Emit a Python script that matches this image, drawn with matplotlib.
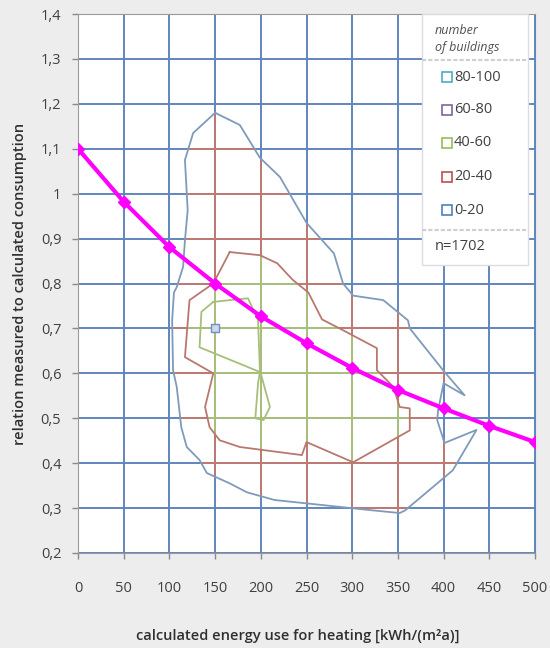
import matplotlib
matplotlib.use("Agg")
import matplotlib.pyplot as plt
from matplotlib.patches import Polygon, Rectangle

plt.rcParams['font.family'] = ['Open Sans', 'DejaVu Sans']

# measured / calculated ratio curve
energy = [0, 50, 100, 150, 200, 250, 300, 350, 400, 450, 500]
ratio = [1.10, 0.982, 0.881, 0.80, 0.727, 0.667, 0.612, 0.563, 0.522, 0.483, 0.447]

# contour outlines (number of buildings)
band_0_20_x = [150, 177, 199, 221, 250, 280, 290, 301, 334, 361, 363, 401, 423, 400, 394,
               393, 401, 436, 410, 358, 352, 322, 215, 185, 166, 141, 133, 119, 113, 108,
               104, 103, 105, 108, 115, 117, 120, 117, 126, 150]
band_0_20_y = [1.18, 1.153, 1.08, 1.037, 0.935, 0.867, 0.80, 0.773, 0.763, 0.718, 0.70, 0.603,
               0.551, 0.578, 0.518, 0.496, 0.445, 0.474, 0.384, 0.295, 0.289, 0.295, 0.318,
               0.335, 0.355, 0.378, 0.407, 0.436, 0.48, 0.57, 0.607, 0.718, 0.78, 0.792,
               0.837, 0.896, 0.963, 1.075, 1.135, 1.18]

band_20_40_x = [166, 199, 218, 235, 252, 267, 289, 327, 327, 345, 352, 363, 363, 301, 250,
                245, 177, 155, 144, 139, 148, 117, 122, 148, 166]
band_20_40_y = [0.87, 0.863, 0.845, 0.808, 0.78, 0.72, 0.697, 0.656, 0.607, 0.57, 0.525, 0.522,
                0.473, 0.402, 0.447, 0.418, 0.436, 0.451, 0.48, 0.525, 0.60, 0.636, 0.763,
                0.80, 0.87]

band_40_60_x = [148, 166, 186, 197, 199, 210, 203, 194, 197, 199, 133, 135, 148]
band_40_60_y = [0.759, 0.763, 0.767, 0.718, 0.607, 0.525, 0.496, 0.50, 0.578, 0.603, 0.658,
                0.737, 0.759]

band_60_80_x = [150]
band_60_80_y = [0.70]

x_ticks = [0, 50, 100, 150, 200, 250, 300, 350, 400, 450, 500]
y_ticks = [0.2, 0.3, 0.4, 0.5, 0.6, 0.7, 0.8, 0.9, 1.0, 1.1, 1.2, 1.3, 1.4]
y_ticklabels = ["0,2", "0,3", "0,4", "0,5", "0,6", "0,7", "0,8", "0,9", "1",
                "1,1", "1,2", "1,3", "1,4"]

legend_labels = ["80-100", "60-80", "40-60", "20-40", "0-20"]
legend_colors = ["#4bacc6", "#8064a2", "#9bbb59", "#c0504d", "#4f81bd"]

grid_blue = "#5f86bd"
grid_red = "#c07a72"
grid_green = "#a9c07c"

fig = plt.figure(figsize=(5.5, 6.48), dpi=100, facecolor="#ededed")
ax = fig.add_axes([78 / 550, 1 - 553 / 648, 457 / 550, 539 / 648])
ax.set_facecolor("white")
ax.set_xlim(0, 500)
ax.set_ylim(0.2, 1.4)


def draw_grid(color, clip=None, z=0.5):
    vl = ax.vlines(x_ticks, 0.2, 1.4, colors=color, linewidth=1.4, zorder=z)
    hl = ax.hlines(y_ticks, 0, 500, colors=color, linewidth=1.4, zorder=z)
    if clip is not None:
        vl.set_clip_path(clip)
        hl.set_clip_path(clip)


outer = Polygon(list(zip(band_0_20_x, band_0_20_y)), closed=True, transform=ax.transData)
inner = Polygon(list(zip(band_20_40_x, band_20_40_y)), closed=True, transform=ax.transData)

draw_grid(grid_blue)
draw_grid(grid_red, outer, 0.6)
draw_grid(grid_green, inner, 0.7)

# contour lines
ax.plot(band_0_20_x, band_0_20_y, color="#7f9abb", linewidth=1.3, zorder=2)
ax.plot(band_20_40_x, band_20_40_y, color="#b9786f", linewidth=1.3, zorder=2)
ax.plot(band_40_60_x, band_40_60_y, color="#a7bf7a", linewidth=1.3, zorder=2)
ax.plot(band_60_80_x, band_60_80_y, marker="s", markersize=6, markerfacecolor="#cfd9ea",
        markeredgecolor="#6f8fc0", linestyle="none", zorder=2)

ax.plot(energy, ratio, color="#ff00ff", linewidth=3, marker="D", markersize=6, zorder=3)

ax.set_xticks(x_ticks)
ax.set_yticks(y_ticks)
ax.set_yticklabels(y_ticklabels)
ax.tick_params(axis="both", colors="#8a8a8a", labelcolor="#404040", labelsize=10.5,
               length=4, width=1)
ax.tick_params(axis="x", pad=16)
ax.tick_params(axis="y", pad=8)
for side in ["left", "bottom", "top"]:
    ax.spines[side].set_color("#9a9a9a")
ax.spines["right"].set_color(grid_blue)

ax.set_xlabel("calculated energy use for heating [kWh/(m²a)]", fontsize=10.5,
              fontweight="semibold", color="#303030", labelpad=24, x=0.481)
ax.set_ylabel("relation measured to calculated consumption", fontsize=10.5,
              fontweight="semibold", color="#303030", labelpad=10)

# legend box
ax.add_patch(Rectangle((0.753, 0.534), 0.232, 0.466, transform=ax.transAxes,
                       facecolor="white", edgecolor="#dcdcdc", linewidth=1, zorder=5))
ax.plot([0.753, 0.985], [0.915, 0.915], transform=ax.transAxes, color="#cfcfcf",
        linewidth=1.5, linestyle=(0, (2, 1)), zorder=6)
ax.plot([0.753, 0.985], [0.599, 0.599], transform=ax.transAxes, color="#cfcfcf",
        linewidth=1.5, linestyle=(0, (2, 1)), zorder=6)
ax.text(0.781, 0.970, "number", transform=ax.transAxes, fontsize=9, style="italic",
        color="#505050", va="center", ha="left", zorder=6)
ax.text(0.781, 0.937, "of buildings", transform=ax.transAxes, fontsize=9, style="italic",
        color="#505050", va="center", ha="left", zorder=6)
entry_y = [0.883, 0.822, 0.761, 0.698, 0.636]
for lab, col, ey in zip(legend_labels, legend_colors, entry_y):
    ax.plot([0.807], [ey], transform=ax.transAxes, marker="s", markersize=7,
            markerfacecolor="white", markeredgecolor=col, markeredgewidth=1.2,
            linestyle="none", zorder=6)
    ax.text(0.823, ey, lab, transform=ax.transAxes, fontsize=10.5, color="#404040",
            va="center", ha="left", zorder=6)
ax.text(0.781, 0.568, "n=1702", transform=ax.transAxes, fontsize=10.5, color="#404040",
        va="center", ha="left", zorder=6)

fig.savefig("out.png", dpi=100, facecolor=fig.get_facecolor())
